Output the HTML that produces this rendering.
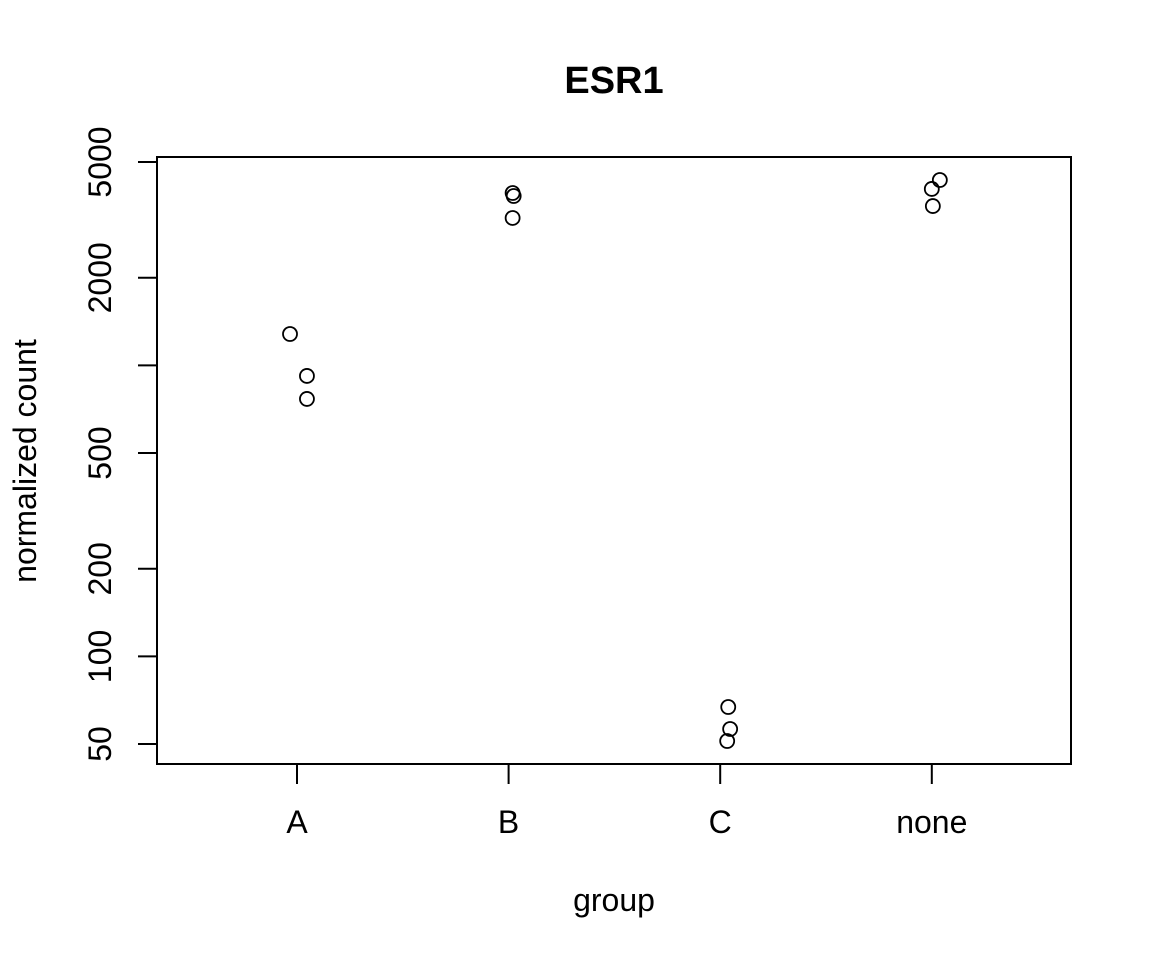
<!DOCTYPE html>
<html><head><meta charset="utf-8"><style>
html,body{margin:0;padding:0;background:#fff;}
svg text{font-family:"Liberation Sans",Arial,sans-serif;fill:#000;}
</style></head><body>
<svg id="chart" width="1152" height="960" viewBox="0 0 1152 960" xmlns="http://www.w3.org/2000/svg">
<rect x="0" y="0" width="1152" height="960" fill="#fff"/>
<text x="614" y="93" font-size="38" font-weight="bold" text-anchor="middle">ESR1</text>
<rect x="157" y="157" width="914" height="607" fill="none" stroke="#000" stroke-width="2"/>
<text x="614" y="911" font-size="32" text-anchor="middle">group</text>
<text transform="translate(36,461) rotate(-90)" font-size="32" text-anchor="middle">normalized count</text>
<g id="axes"></g>
<g id="points"></g>
</svg>
<script>
const categories = ["A","B","C","none"];
const pointGroups = [0,0,0,1,1,1,2,2,2,3,3,3];
const pointValues = [1282,920,767,3912,3820,3211,67,56.3,51.2,4336,4040,3528];
const pointJitter = [-0.033,0.047,0.047,0.019,0.024,0.019,0.038,0.047,0.033,0.038,0,0.005];
const yTicks = [50,100,200,500,1000,2000,5000];
const yTickLabels = ["50","100","200","500","","2000","5000"];

const NS = "http://www.w3.org/2000/svg";
function xScale(i){ return 297 + i*211.6; }
function yScale(v){ return 162 + (Math.log10(5000) - Math.log10(v))*291; }
function mk(tag, attrs, parent){ const e=document.createElementNS(NS,tag); for(const k in attrs) e.setAttribute(k,attrs[k]); parent.appendChild(e); return e; }

const axes = document.getElementById('axes');
yTicks.forEach((t,i)=>{
  const y = yScale(t);
  const l = mk('line',{x1:138,x2:157,y1:y,y2:y,stroke:'#000','stroke-width':2},axes);
  
  
  if(yTickLabels[i]){
    const tx = mk('text',{transform:`translate(111,${y}) rotate(-90)`,'font-size':32,'text-anchor':'middle'},axes);
    tx.textContent = yTickLabels[i];
    
    
  }
});
categories.forEach((c,i)=>{
  const x = xScale(i);
  const l = mk('line',{x1:x,x2:x,y1:764,y2:784,stroke:'#000','stroke-width':2},axes);
  
  
  const tx = mk('text',{x:x,y:833,'font-size':32,'text-anchor':'middle'},axes);
  tx.textContent = c;
  
  
});
const pts = document.getElementById('points');
pointValues.forEach((v,i)=>{
  const cx = xScale(pointGroups[i] + pointJitter[i]);
  const cy = yScale(v);
  const p = mk('circle',{cx:cx,cy:cy,r:7,fill:'none',stroke:'#000','stroke-width':1.8},pts);
  
  
});
</script>
</body></html>
